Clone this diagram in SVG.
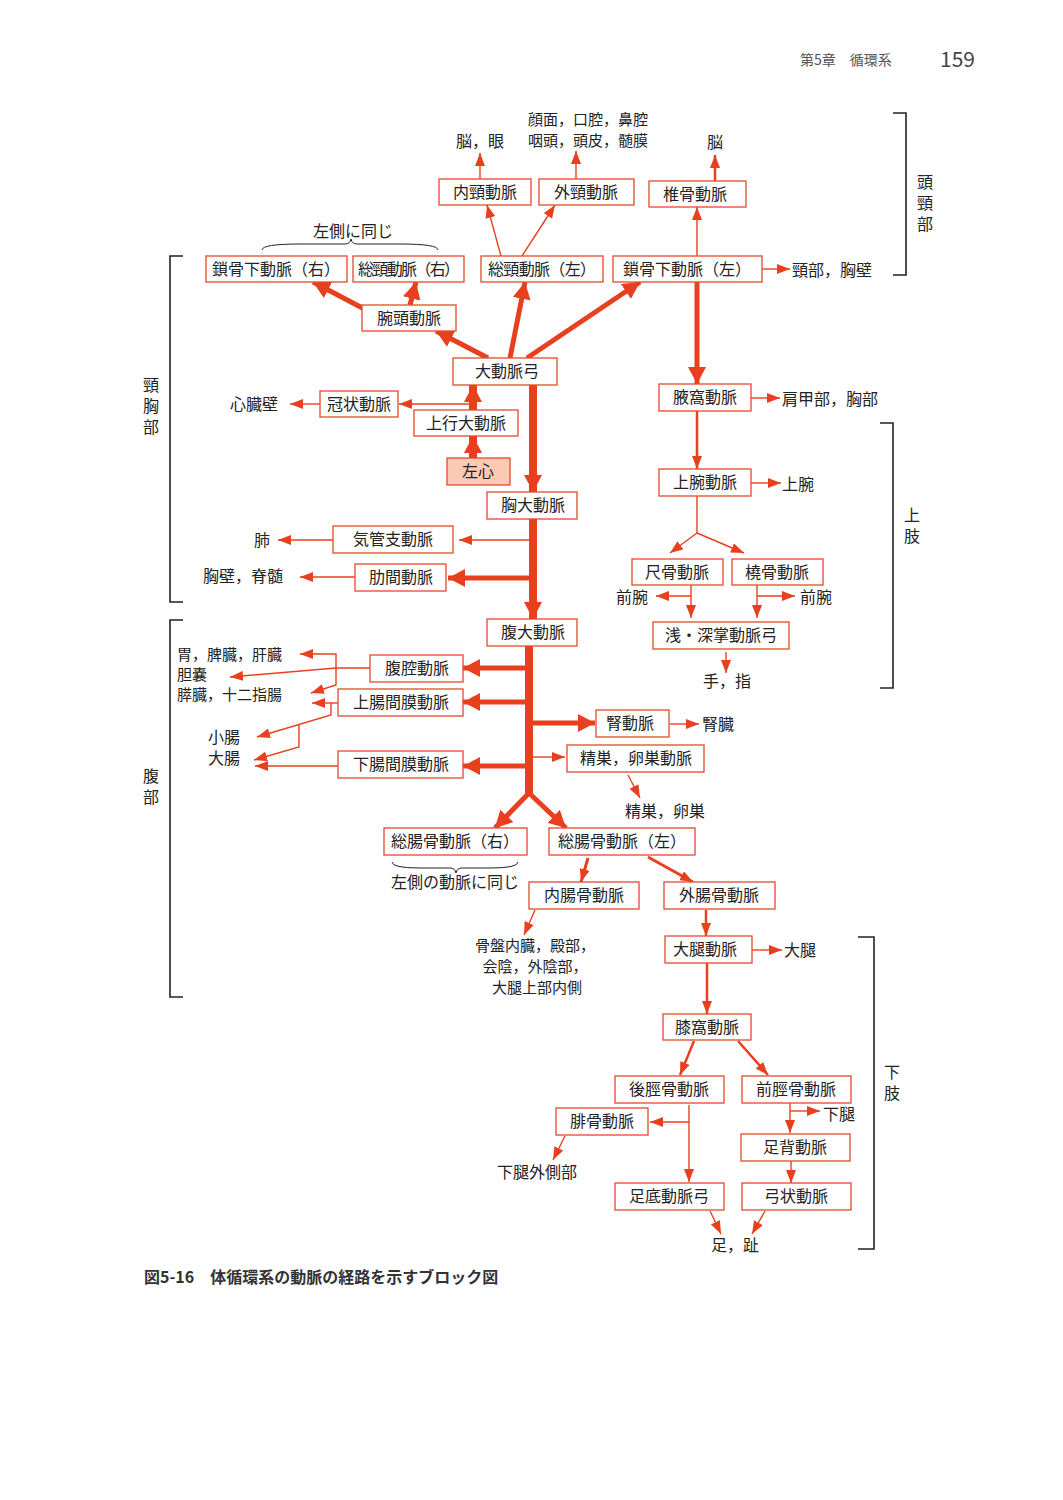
<svg xmlns="http://www.w3.org/2000/svg" width="1063" height="1500" viewBox="0 0 1063 1500">
<style>
text{font-family:"Noto Sans CJK JP","Noto Sans",sans-serif;font-size:16px;fill:#222}
.sm{font-size:15px}
.b rect{fill:#fff;stroke:#e24a2c;stroke-width:1.3}
.m{text-anchor:middle}
.e{text-anchor:end}
.c line,.c path,.c polyline{stroke:#e8401f;fill:none}
.t{stroke-width:1.4}
.w{stroke-width:5}
.a{stroke-width:8}
.k{stroke:#222;stroke-width:1.6;fill:none}
</style>
<defs>
<marker id="s" markerUnits="userSpaceOnUse" markerWidth="14" markerHeight="10" refX="13" refY="5" orient="auto"><path d="M0,0L13,5L0,10z" fill="#e8401f"/></marker>
<marker id="L" markerUnits="userSpaceOnUse" markerWidth="18" markerHeight="18" refX="17" refY="9" orient="auto"><path d="M0,0L17,9L0,18z" fill="#e8401f"/></marker>
</defs>
<rect width="1063" height="1500" fill="#fff"/>
<text x="800" y="65" style="font-size:14px;fill:#555">第5章　循環系</text>
<text x="940" y="67" style="font-size:21px;fill:#444">159</text>
<g id="c" class="c">
<line class="a" x1="533" y1="385" x2="533" y2="492" marker-end="url(#L)"/>
<line class="a" x1="533" y1="519" x2="533" y2="619" marker-end="url(#L)"/>
<polyline class="a" points="529,646 529,793"/>
<line class="w" x1="529" y1="793" x2="495" y2="828" marker-end="url(#L)"/>
<line class="w" x1="529" y1="793" x2="566" y2="828" marker-end="url(#L)"/>
<line class="w" x1="488" y1="358" x2="436" y2="331" marker-end="url(#L)"/>
<line class="w" x1="370" y1="312" x2="313" y2="282" marker-end="url(#L)"/>
<line class="w" x1="410" y1="305" x2="416" y2="282" marker-end="url(#L)"/>
<line class="w" x1="510" y1="358" x2="525" y2="282" marker-end="url(#L)"/>
<line class="w" x1="527" y1="358" x2="640" y2="282" marker-end="url(#L)"/>
<line class="a" x1="473" y1="410" x2="473" y2="385" marker-end="url(#L)"/>
<line class="a" x1="473" y1="458" x2="473" y2="436" marker-end="url(#L)"/>
<line class="t" x1="473" y1="404" x2="399" y2="404" marker-end="url(#s)"/>
<line class="t" x1="320" y1="404" x2="290" y2="404" marker-end="url(#s)"/>
<line class="w" x1="697" y1="282" x2="697" y2="384" marker-end="url(#L)"/>
<line class="t" x1="697" y1="256" x2="697" y2="207" marker-end="url(#s)"/>
<line class="w" x1="715" y1="181" x2="715" y2="155" style="stroke-width:2.5" marker-end="url(#s)"/>
<line class="t" x1="762" y1="269" x2="790" y2="269" marker-end="url(#s)"/>
<line class="t" x1="501" y1="256" x2="487" y2="205" marker-end="url(#s)"/>
<line class="t" x1="522" y1="256" x2="555" y2="205" marker-end="url(#s)"/>
<line class="t" x1="480" y1="179" x2="480" y2="153" marker-end="url(#s)"/>
<line class="t" x1="576" y1="179" x2="576" y2="151" marker-end="url(#s)"/>
<line class="t" x1="751" y1="398" x2="780" y2="398" marker-end="url(#s)"/>
<line class="w" x1="697" y1="411" x2="697" y2="469" style="stroke-width:2.5" marker-end="url(#s)"/>
<line class="t" x1="751" y1="483" x2="781" y2="483" marker-end="url(#s)"/>
<polyline class="t" points="697,496 697,533"/>
<line class="t" x1="697" y1="533" x2="670" y2="553" marker-end="url(#s)"/>
<line class="t" x1="697" y1="533" x2="744" y2="553" marker-end="url(#s)"/>
<line class="t" x1="691" y1="585" x2="691" y2="618" marker-end="url(#s)"/>
<line class="t" x1="691" y1="596" x2="656" y2="596" marker-end="url(#s)"/>
<line class="t" x1="757" y1="585" x2="757" y2="618" marker-end="url(#s)"/>
<line class="t" x1="757" y1="596" x2="795" y2="596" marker-end="url(#s)"/>
<line class="t" x1="726" y1="652" x2="726" y2="673" marker-end="url(#s)"/>
<line class="t" x1="529" y1="540" x2="459" y2="540" marker-end="url(#s)"/>
<line class="t" x1="333" y1="540" x2="278" y2="540" marker-end="url(#s)"/>
<line class="w" x1="529" y1="578" x2="448" y2="578" marker-end="url(#L)"/>
<line class="t" x1="355" y1="577" x2="300" y2="577" marker-end="url(#s)"/>
<line class="w" x1="529" y1="668" x2="463" y2="668" marker-end="url(#L)"/>
<line class="w" x1="529" y1="702" x2="463" y2="702" marker-end="url(#L)"/>
<line class="w" x1="529" y1="766" x2="463" y2="766" marker-end="url(#L)"/>
<line class="w" x1="533" y1="723" x2="595" y2="723" marker-end="url(#L)"/>
<line class="t" x1="533" y1="757" x2="565" y2="757" marker-end="url(#s)"/>
<line class="t" x1="670" y1="724" x2="699" y2="724" marker-end="url(#s)"/>
<line class="t" x1="628" y1="775" x2="640" y2="798" marker-end="url(#s)"/>
<polyline class="t" points="370,668 336,668 230,677" marker-end="url(#s)"/>
<polyline class="t" points="336,668 336,654 300,654" marker-end="url(#s)"/>
<polyline class="t" points="336,668 336,685 311,693" marker-end="url(#s)"/>
<line class="t" x1="338" y1="703" x2="312" y2="703" marker-end="url(#s)"/>
<polyline class="t" points="331,703 331,715 257,737" marker-end="url(#s)"/>
<polyline class="t" points="299,725 299,747 254,760" marker-end="url(#s)"/>
<line class="t" x1="338" y1="766" x2="255" y2="766" marker-end="url(#s)"/>
<line class="w" x1="588" y1="858" x2="581" y2="882" style="stroke-width:3" marker-end="url(#s)"/>
<line class="w" x1="648" y1="857" x2="693" y2="882" style="stroke-width:3" marker-end="url(#s)"/>
<line class="t" x1="535" y1="910" x2="524" y2="935" marker-end="url(#s)"/>
<line class="w" x1="706" y1="910" x2="706" y2="936" style="stroke-width:2.5" marker-end="url(#s)"/>
<line class="t" x1="752" y1="950" x2="782" y2="950" marker-end="url(#s)"/>
<line class="w" x1="707" y1="963" x2="707" y2="1014" style="stroke-width:2.5" marker-end="url(#s)"/>
<line class="w" x1="694" y1="1041" x2="680" y2="1075" style="stroke-width:2.5" marker-end="url(#s)"/>
<line class="w" x1="738" y1="1041" x2="768" y2="1075" style="stroke-width:2.5" marker-end="url(#s)"/>
<line class="t" x1="689" y1="1105" x2="689" y2="1182" marker-end="url(#s)"/>
<line class="t" x1="689" y1="1122" x2="650" y2="1122" marker-end="url(#s)"/>
<line class="t" x1="565" y1="1136" x2="553" y2="1160" marker-end="url(#s)"/>
<line class="t" x1="790" y1="1103" x2="790" y2="1133" marker-end="url(#s)"/>
<line class="t" x1="790" y1="1111" x2="820" y2="1111" marker-end="url(#s)"/>
<line class="t" x1="791" y1="1161" x2="791" y2="1183" marker-end="url(#s)"/>
<line class="t" x1="710" y1="1211" x2="721" y2="1234" marker-end="url(#s)"/>
<line class="t" x1="765" y1="1211" x2="752" y2="1234" marker-end="url(#s)"/>
</g>
<g class="b">
<g id="n1"><rect x="439" y="179" width="92" height="26"/><text class="m" x="485" y="198">内頸動脈</text></g>
<g id="n2"><rect x="539" y="179" width="95" height="26"/><text class="m" x="586" y="198">外頸動脈</text></g>
<g id="n3"><rect x="649" y="181" width="97" height="26"/><text class="m" x="695" y="200">椎骨動脈</text></g>
<g id="n4"><rect x="206" y="256" width="141" height="26"/><text class="m" x="276" y="275" textLength="128">鎖骨下動脈（右）</text></g>
<g id="n5"><rect x="353" y="256" width="111" height="26"/><text class="m" x="409" y="275" textLength="102">総頸動脈（右）</text></g>
<g id="n6"><rect x="481" y="256" width="122" height="26"/><text class="m" x="542" y="275" textLength="108">総頸動脈（左）</text></g>
<g id="n7"><rect x="613" y="256" width="149" height="26"/><text class="m" x="687" y="275" textLength="128">鎖骨下動脈（左）</text></g>
<g id="n8"><rect x="362" y="305" width="94" height="26"/><text class="m" x="409" y="324">腕頭動脈</text></g>
<g id="n9"><rect x="453" y="358" width="104" height="27"/><text class="m" x="507" y="377">大動脈弓</text></g>
<g id="n10"><rect x="320" y="391" width="78" height="26"/><text class="m" x="359" y="410">冠状動脈</text></g>
<g id="n11"><rect x="414" y="410" width="104" height="26"/><text class="m" x="466" y="429">上行大動脈</text></g>
<g id="n12"><rect x="447" y="458" width="63" height="27" style="fill:#fcc9b5"/><text class="m" x="478" y="477">左心</text></g>
<g id="n13"><rect x="487" y="492" width="90" height="27"/><text class="m" x="533" y="511">胸大動脈</text></g>
<g id="n14"><rect x="659" y="384" width="92" height="27"/><text class="m" x="705" y="403">腋窩動脈</text></g>
<g id="n15"><rect x="659" y="469" width="92" height="27"/><text class="m" x="705" y="488">上腕動脈</text></g>
<g id="n16"><rect x="632" y="559" width="91" height="26"/><text class="m" x="677" y="578">尺骨動脈</text></g>
<g id="n17"><rect x="732" y="559" width="91" height="26"/><text class="m" x="777" y="578">橈骨動脈</text></g>
<g id="n18"><rect x="653" y="622" width="136" height="27"/><text class="m" x="721" y="641">浅・深掌動脈弓</text></g>
<g id="n19"><rect x="333" y="526" width="120" height="27"/><text class="m" x="393" y="545">気管支動脈</text></g>
<g id="n20"><rect x="355" y="564" width="91" height="27"/><text class="m" x="401" y="583">肋間動脈</text></g>
<g id="n21"><rect x="487" y="619" width="90" height="27"/><text class="m" x="533" y="638">腹大動脈</text></g>
<g id="n22"><rect x="370" y="655" width="93" height="27"/><text class="m" x="417" y="674">腹腔動脈</text></g>
<g id="n23"><rect x="338" y="689" width="125" height="27"/><text class="m" x="401" y="708">上腸間膜動脈</text></g>
<g id="n24"><rect x="596" y="710" width="73" height="27"/><text class="m" x="630" y="729">腎動脈</text></g>
<g id="n25"><rect x="567" y="745" width="137" height="27"/><text class="m" x="636" y="764">精巣，卵巣動脈</text></g>
<g id="n26"><rect x="338" y="751" width="125" height="27"/><text class="m" x="401" y="770">下腸間膜動脈</text></g>
<g id="n27"><rect x="384" y="828" width="143" height="27"/><text class="m" x="455" y="847" textLength="128">総腸骨動脈（右）</text></g>
<g id="n28"><rect x="549" y="828" width="146" height="27"/><text class="m" x="622" y="847" textLength="128">総腸骨動脈（左）</text></g>
<g id="n29"><rect x="529" y="882" width="110" height="27"/><text class="m" x="584" y="901">内腸骨動脈</text></g>
<g id="n30"><rect x="664" y="882" width="111" height="27"/><text class="m" x="719" y="901">外腸骨動脈</text></g>
<g id="n31"><rect x="665" y="936" width="87" height="27"/><text class="m" x="705" y="955">大腿動脈</text></g>
<g id="n32"><rect x="663" y="1014" width="88" height="26"/><text class="m" x="707" y="1033">膝窩動脈</text></g>
<g id="n33"><rect x="615" y="1076" width="109" height="27"/><text class="m" x="669" y="1095">後脛骨動脈</text></g>
<g id="n34"><rect x="742" y="1076" width="109" height="27"/><text class="m" x="796" y="1095">前脛骨動脈</text></g>
<g id="n35"><rect x="556" y="1108" width="92" height="27"/><text class="m" x="602" y="1127">腓骨動脈</text></g>
<g id="n36"><rect x="741" y="1134" width="109" height="27"/><text class="m" x="795" y="1153">足背動脈</text></g>
<g id="n37"><rect x="615" y="1183" width="109" height="27"/><text class="m" x="669" y="1202">足底動脈弓</text></g>
<g id="n38"><rect x="742" y="1183" width="109" height="27"/><text class="m" x="796" y="1202">弓状動脈</text></g>
</g>
<g id="labels">
<text class="m" x="480" y="147">脳，眼</text>
<text class="m sm" x="588" y="125">顔面，口腔，鼻腔</text>
<text class="m sm" x="588" y="146">咽頭，頭皮，髄膜</text>
<text class="m" x="715" y="148">脳</text>
<text class="m" x="353" y="237">左側に同じ</text>
<text x="792" y="276">頸部，胸壁</text>
<text class="e" x="278" y="410">心臓壁</text>
<text x="782" y="405">肩甲部，胸部</text>
<text x="782" y="490">上腕</text>
<text class="e" x="270" y="546">肺</text>
<text class="e" x="283" y="582">胸壁，脊髄</text>
<text x="616" y="603">前腕</text>
<text x="800" y="603">前腕</text>
<text class="m" x="727" y="687">手，指</text>
<text class="sm" x="177" y="660">胃，脾臓，肝臓</text>
<text class="sm" x="177" y="680">胆嚢</text>
<text class="sm" x="177" y="700">膵臓，十二指腸</text>
<text x="208" y="743">小腸</text>
<text x="208" y="764">大腸</text>
<text x="702" y="730">腎臓</text>
<text x="625" y="817">精巣，卵巣</text>
<text class="m" x="455" y="888">左側の動脈に同じ</text>
<text class="m sm" x="535" y="951">骨盤内臓，殿部，</text>
<text class="m sm" x="535" y="972">会陰，外陰部，</text>
<text class="m sm" x="537" y="993">大腿上部内側</text>
<text x="784" y="956">大腿</text>
<text x="823" y="1120">下腿</text>
<text class="m" x="537" y="1178">下腿外側部</text>
<text class="m" x="735" y="1251">足，趾</text>
<text class="m" x="925" y="188">頭</text><text class="m" x="925" y="209">頸</text><text class="m" x="925" y="230">部</text>
<text class="m" x="151" y="391">頸</text><text class="m" x="151" y="412">胸</text><text class="m" x="151" y="433">部</text>
<text class="m" x="912" y="521">上</text><text class="m" x="912" y="542">肢</text>
<text class="m" x="151" y="782">腹</text><text class="m" x="151" y="803">部</text>
<text class="m" x="892" y="1078">下</text><text class="m" x="892" y="1099">肢</text>
<text x="144" y="1283" style="font-weight:bold;fill:#333">図5-16　体循環系の動脈の経路を示すブロック図</text>
</g>
<g id="brackets">
<path class="k" d="M893,113H906V275H893"/>
<path class="k" d="M183,256H170V602H183"/>
<path class="k" d="M880,423H893V688H880"/>
<path class="k" d="M183,620H170V997H183"/>
<path class="k" d="M858,937H874V1249H858"/>
<path class="k" style="stroke-width:1" d="M262,250Q262,244 300,244H345Q350,244 351,239Q352,244 357,244H400Q438,244 438,250"/>
<path class="k" style="stroke-width:1" d="M392,862Q392,868 420,868H450Q455,868 456,873Q457,868 462,868H490Q518,868 518,862"/>
</g>
</svg>
